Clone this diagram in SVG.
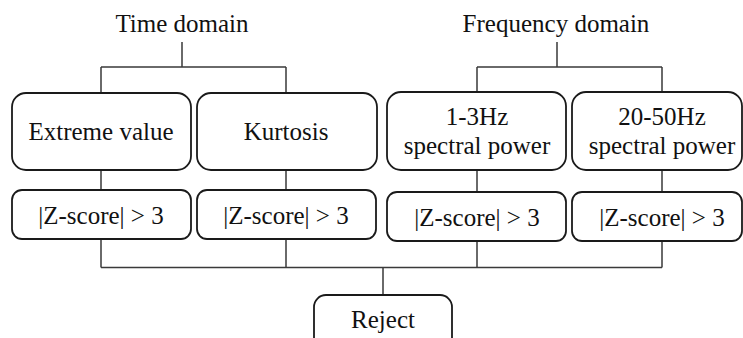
<svg xmlns="http://www.w3.org/2000/svg" width="743" height="338" viewBox="0 0 743 338">
  <style>
    .box { fill: #ffffff; stroke: #1a1a1a; stroke-width: 1.8; }
    .lbl { font-family: 'Liberation Serif', 'DejaVu Serif', serif; font-size: 25px; fill: #111111; text-anchor: middle; }
    .wire { fill: none; stroke: #3a3a3a; stroke-width: 1.5; }
  </style>
  <rect width="743" height="338" fill="#ffffff"/>

  <!-- group headings -->
  <g id="time-domain">
    <text class="lbl" x="182" y="32" font-family="Liberation Serif">Time domain</text>
  </g>
  <g id="frequency-domain">
    <text class="lbl" x="556" y="32" font-family="Liberation Serif">Frequency domain</text>
  </g>

  <!-- connectors -->
  <g id="connectors">
    <path class="wire" d="M182,42 V67 M101,67 H286 M101,67 V93 M286,67 V93"/>
    <path class="wire" d="M557,42 V67 M477,67 H662 M477,67 V92 M662,67 V92"/>
    <path class="wire" d="M101,170 V190 M286,170 V190 M477,170 V192 M662,170 V192"/>
    <path class="wire" d="M101,239 V267.5 M286,239 V267.5 M477,241 V267.5 M662,241 V267.5 M101,267.5 H662 M383,267.5 V295"/>
  </g>

  <!-- feature nodes -->
  <g id="extreme-value">
    <rect class="box" x="12" y="93" width="179" height="77" rx="14"/>
    <text class="lbl" x="101" y="140">Extreme value</text>
  </g>
  <g id="kurtosis">
    <rect class="box" x="197" y="93" width="180" height="77" rx="14"/>
    <text class="lbl" x="286" y="140">Kurtosis</text>
  </g>
  <g id="power-1-3hz">
    <rect class="box" x="387" y="92" width="179" height="78" rx="14"/>
    <text class="lbl" x="477" y="125">1-3Hz</text>
    <text class="lbl" x="477" y="154">spectral power</text>
  </g>
  <g id="power-20-50hz">
    <rect class="box" x="572" y="92" width="170" height="78" rx="14"/>
    <text class="lbl" x="662" y="125">20-50Hz</text>
    <text class="lbl" x="662" y="154">spectral power</text>
  </g>

  <!-- threshold nodes -->
  <g id="z-extreme">
    <rect class="box" x="12" y="190" width="179" height="49" rx="10"/>
    <text class="lbl" x="101" y="224">|Z-score| &gt; 3</text>
  </g>
  <g id="z-kurtosis">
    <rect class="box" x="197" y="190" width="179" height="49" rx="10"/>
    <text class="lbl" x="286" y="224">|Z-score| &gt; 3</text>
  </g>
  <g id="z-power-1-3hz">
    <rect class="box" x="387" y="192" width="179" height="49" rx="10"/>
    <text class="lbl" x="477" y="226">|Z-score| &gt; 3</text>
  </g>
  <g id="z-power-20-50hz">
    <rect class="box" x="572" y="192" width="170" height="49" rx="10"/>
    <text class="lbl" x="662" y="226">|Z-score| &gt; 3</text>
  </g>

  <!-- outcome node -->
  <g id="reject">
    <rect class="box" x="314" y="295" width="138" height="60" rx="12"/>
    <text class="lbl" x="383" y="328">Reject</text>
  </g>
</svg>
